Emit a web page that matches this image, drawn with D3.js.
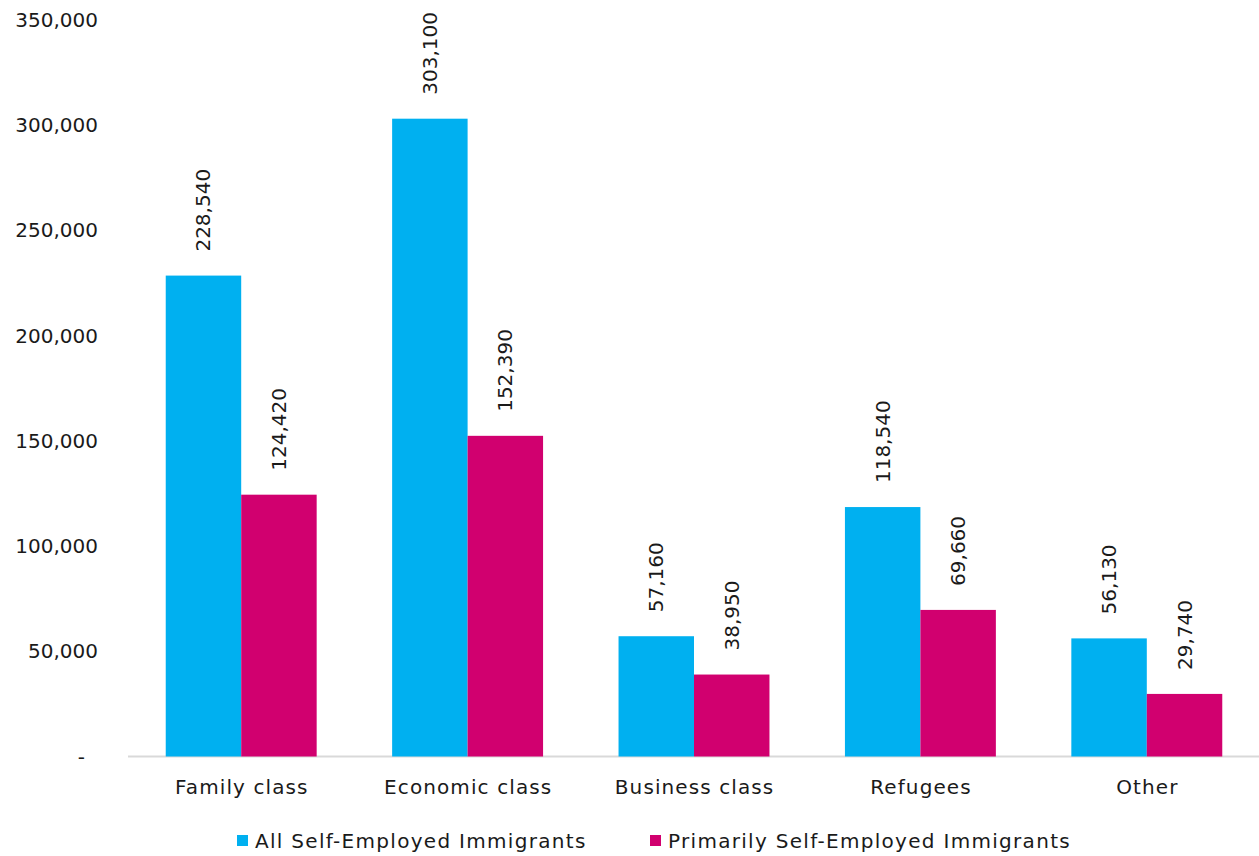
<!DOCTYPE html>
<html><head><meta charset="utf-8">
<script src="https://cdn.jsdelivr.net/npm/d3@7"></script>
<style>body{margin:0;background:#fff;} text{font-family:"DejaVu Sans",sans-serif;fill:#1a1a1a;}</style>
</head><body>
<svg id="c" width="1259" height="856"></svg>
<script>
const categories = ["Family class","Economic class","Business class","Refugees","Other"];
const seriesNames = ["All Self-Employed Immigrants","Primarily Self-Employed Immigrants"];
const allSelfEmployed = [228540,303100,57160,118540,56130];
const primarilySelfEmployed = [124420,152390,38950,69660,29740];
const yTicks = [0,50000,100000,150000,200000,250000,300000,350000];
const colors = ["#00b0f0","#d1006f"];

const svg = d3.select("#c");
const mLeft = 128, mRight = 1260, mTop = 20, mBottom = 756.5;
const y = d3.scaleLinear().domain([0,350000]).range([mBottom, mTop]);
const x0 = d3.scaleBand().domain(categories).range([mLeft,mRight]).padding(0);
const x1 = d3.scaleBand().domain(seriesNames).range([0,x0.bandwidth()]).paddingInner(0).paddingOuter(0.5);
const fs = 20;

// baseline
svg.append("line").attr("x1",mLeft).attr("x2",mRight).attr("y1",mBottom).attr("y2",mBottom)
  .attr("stroke","#d9d9d9").attr("stroke-width",2);

// y ticks
const fmt = d3.format(",");
svg.append("g").selectAll("text").data(yTicks).join("text")
  .attr("x", d => d===0 ? 85 : 98)
  .attr("y", d => y(d))
  .attr("text-anchor","end").attr("dominant-baseline","central")
  .style("font-size", fs+"px")
  .text(d => d===0 ? "-" : fmt(d));

const data = categories.map((c,i)=>({cat:c, vals:[allSelfEmployed[i], primarilySelfEmployed[i]]}));
const g = svg.append("g").selectAll("g").data(data).join("g")
  .attr("transform", d => `translate(${x0(d.cat)},0)`);
g.selectAll("rect").data(d => d.vals.map((v,j)=>({v, s:seriesNames[j], j}))).join("rect")
  .attr("x", d => x1(d.s)).attr("width", x1.bandwidth())
  .attr("y", d => y(d.v)).attr("height", d => y(0)-y(d.v))
  .attr("fill", d => colors[d.j]);
g.selectAll("text.lbl").data(d => d.vals.map((v,j)=>({v, s:seriesNames[j], j}))).join("text")
  .attr("class","lbl")
  .attr("transform", d => `translate(${x1(d.s)+x1.bandwidth()/2},${y(d.v)-24}) rotate(-90)`)
  .attr("text-anchor","start").attr("dominant-baseline","central")
  .style("font-size", fs+"px")
  .text(d => fmt(d.v));

// category labels
svg.append("g").selectAll("text").data(categories).join("text")
  .attr("x", d => x0(d)+x0.bandwidth()/2 + 0.6).attr("y", 787)
  .attr("text-anchor","middle").attr("dominant-baseline","central")
  .style("font-size", fs+"px").style("letter-spacing","1.1px").text(d => d);

// legend
const legX = [237, 650];
const lg = svg.append("g").selectAll("g").data(seriesNames).join("g")
  .attr("transform",(d,i)=>`translate(${legX[i]},841)`);
lg.append("rect").attr("x",0).attr("y",-6).attr("width",11).attr("height",11).attr("fill",(d,i)=>colors[i]);
lg.append("text").attr("x",18).attr("y",0).attr("dominant-baseline","central")
  .style("font-size", fs+"px").style("letter-spacing","1.3px").text(d=>d);
</script>
</body></html>
